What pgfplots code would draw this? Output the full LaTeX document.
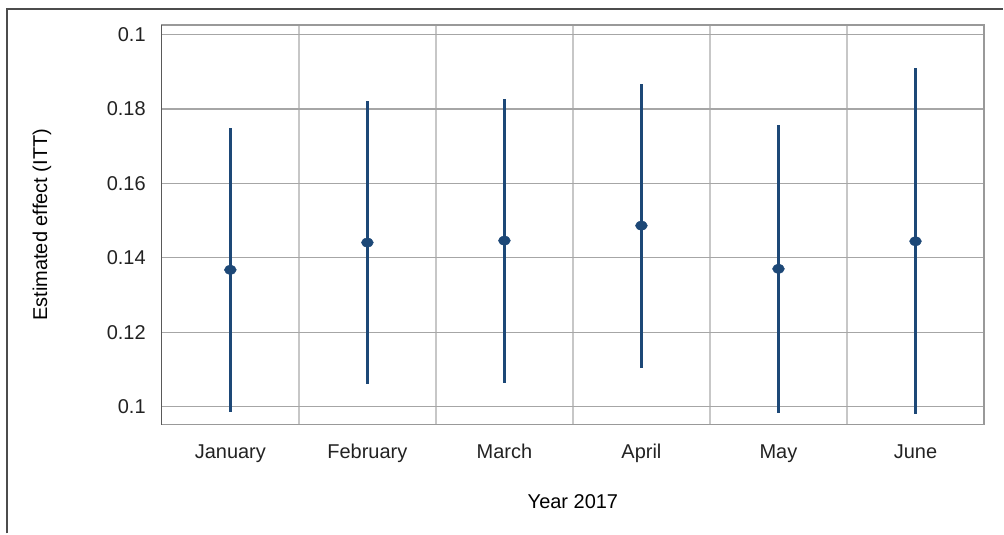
\documentclass[border=0pt]{standalone}
\usepackage{pgfplots}
\pgfplotsset{compat=1.18}
\usepackage{pgfplotstable}
\usepackage{fontspec}
\setmainfont{Liberation Sans}
\definecolor{ebar}{RGB}{29,72,119}
\definecolor{txt}{RGB}{34,34,34}
\pgfplotstableread{
x   y       hi      lo
0.5 0.13677 0.17488 0.09866
1.5 0.14410 0.18213 0.10598
2.5 0.14463 0.18274 0.10633
3.5 0.14866 0.18677 0.11028
4.5 0.13704 0.17577 0.09828
5.5 0.14444 0.19098 0.09793
}\datatable
\begin{document}
\fontsize{20}{23}\selectfont
\begin{tikzpicture}[x=1pt,y=1pt]
\begin{axis}[
  at={(0,0)}, anchor=south west,
  scale only axis, width=823pt, height=400pt,
  xmin=0, xmax=6, ymin=0.09517, ymax=0.2026,
  xtick={0.5,1.5,2.5,3.5,4.5,5.5},
  xticklabels={January,February,March,April,May,June},
  minor xtick={1,2,3,4,5},
  xminorgrids=true, xmajorgrids=false,
  ytick={0.1,0.12,0.14,0.16,0.18,0.2},
  yticklabels={0.1,0.12,0.14,0.16,0.18,0.1},
  ymajorgrids=true,
  major tick length=0pt, minor tick length=0pt,
  minor x grid style={draw=black!22, line width=1.3pt},
  major y grid style={draw=black!35, line width=1.3pt},
  axis line style={draw=black!40, line width=1.3pt},
  tick label style={font=\fontsize{20}{23}\selectfont, text=txt},
  /pgf/number format/assume math mode=true,
  xticklabel style={anchor=base, inner sep=0pt, yshift=-34pt},
  yticklabel style={anchor=east, inner sep=0pt, xshift=-16pt},
  xlabel={Year 2017},
  ylabel={Estimated effect (ITT)},
  label style={font=\fontsize{20}{23}\selectfont, text=txt},
  every axis x label/.style={at={(axis description cs:0.5,-0.21)}, anchor=base},
  every axis y label/.style={at={(axis description cs:-0.1458,0.5)}, rotate=90, anchor=center},
  clip=false,
]
\addplot[only marks, mark=*, mark size=6pt, color=ebar,
  mark options={yscale=0.75, draw=none, fill=ebar},
  error bars/.cd, y dir=both, y explicit,
  error mark=none,
  error bar style={line width=3pt, color=ebar}]
  table[x=x, y=y, y error plus expr=\thisrow{hi}-\thisrow{y}, y error minus expr=\thisrow{y}-\thisrow{lo}] {\datatable};
\draw[black!65, line width=1.3pt] (rel axis cs:0,0) -- (rel axis cs:0,1);
\end{axis}
\draw[black!70, line width=2pt] (-155pt,-109pt) -- (-155pt,416pt) -- (842pt,416pt);
\path[use as bounding box] (-162pt,-109pt) rectangle (842pt,425pt);
\end{tikzpicture}
\end{document}
